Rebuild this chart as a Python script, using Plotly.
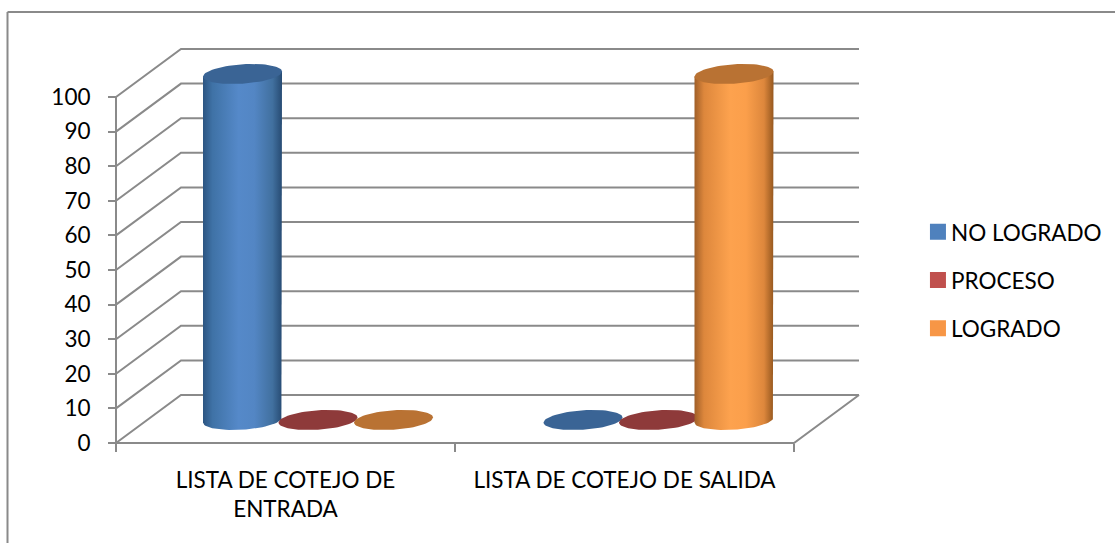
import plotly.graph_objects as go
import numpy as np

categories = ["LISTA DE COTEJO DE<br>ENTRADA", "LISTA DE COTEJO DE SALIDA"]
series_names = ["NO LOGRADO", "PROCESO", "LOGRADO"]
no_logrado = [100, 0]
proceso = [0, 0]
logrado = [0, 100]
y_ticks = list(range(0, 101, 10))

W, H = 1115, 543
X0, CAT = 116, 339          # px of first boundary, px per category
Y0, UNIT = 443, 3.46        # px of value 0, px per value unit
DX, DY = 65 / CAT, 48 / UNIT  # depth of the 3D box in data units
GRID = "#8a8a8a"
FONT = "Lato"
SIZE = 22.5

x_range = [-0.5 - X0 / CAT, -0.5 + (W - X0) / CAT]
y_range = [-(H - Y0) / UNIT, Y0 / UNIT]

styles = [
    dict(top="#3a6495", legend="#4f81bd",
         grad=[[0, "#2c5582"], [0.12, "#3f72a6"], [0.45, "#5589c9"], [0.65, "#5386c4"], [0.88, "#41709f"], [1, "#274b73"]]),
    dict(top="#8e3a3a", legend="#c0504d",
         grad=[[0, "#7a2f2d"], [0.5, "#c0504d"], [1, "#7a2f2d"]]),
    dict(top="#b97233", legend="#f79646",
         grad=[[0, "#a05f28"], [0.12, "#dd873c"], [0.45, "#fda24e"], [0.65, "#fb9f4b"], [0.88, "#dd873c"], [1, "#96581f"]]),
]
values = [no_logrado, proceso, logrado]

fig = go.Figure()

# Walls and floor of the 3D box
for v in y_ticks:
    fig.add_trace(go.Scatter(x=[-0.5, -0.5 + DX, 1.5 + DX], y=[v, v + DY, v + DY], mode="lines",
                             line=dict(color=GRID, width=2), showlegend=False, hoverinfo="skip"))
fig.add_trace(go.Scatter(x=[-0.5, -0.5], y=[0, 100], mode="lines",
                         line=dict(color=GRID, width=2), showlegend=False, hoverinfo="skip"))
fig.add_trace(go.Scatter(x=[-0.5, 1.5, 1.5 + DX], y=[0, 0, DY], mode="lines",
                         line=dict(color=GRID, width=2), showlegend=False, hoverinfo="skip"))

# Cylinders
A = 39.5 / CAT     # half width
B = 9.7 / UNIT     # ellipse half height
K = 2.5 / UNIT     # ellipse tilt
STEP = 75.5 / CAT  # distance between series
PITCH = 340.5 / CAT  # distance between category groups
MID_X, MID_Y = DX / 2, 6.65
t = np.linspace(0, 2 * np.pi, 73)

for s, (vals, st) in enumerate(zip(values, styles)):
    for c, v in enumerate(vals):
        cx = c * PITCH + MID_X + (s - 1) * STEP
        base, topv = MID_Y, v + MID_Y
        ex = cx + A * np.cos(t)
        tilt = K * np.cos(t)
        if v > 0:
            arc = np.linspace(0, np.pi, 37)
            bx = cx + A * np.cos(arc)
            by = base + K * np.cos(arc) - B * np.sin(arc)
            xs = [cx + A] + list(bx) + [cx - A]
            ys = [topv + K] + list(by) + [topv - K]
            fig.add_trace(go.Scatter(
                x=xs, y=ys, mode="lines", line=dict(width=0), fill="toself",
                fillgradient=dict(type="horizontal", colorscale=st["grad"], start=cx - A, stop=cx + A),
                showlegend=False, hoverinfo="skip"))
        fig.add_trace(go.Scatter(
            x=ex, y=topv + tilt + B * np.sin(t), mode="lines", line=dict(width=0),
            fill="toself", fillcolor=st["top"], showlegend=False, hoverinfo="skip"))

# Legend entries
for name, st in zip(series_names, styles):
    fig.add_trace(go.Scatter(x=[None], y=[None], mode="markers", name=name, legendgroup=name,
                             marker=dict(symbol="square", size=16, color=st["legend"])))

fig.update_layout(
    width=W, height=H, autosize=False, margin=dict(l=0, r=0, t=0, b=0),
    paper_bgcolor="white", plot_bgcolor="white", font=dict(family=FONT, size=SIZE, color="#000000"),
    xaxis=dict(range=x_range, tickvals=[0, 1], ticktext=categories, showgrid=False, zeroline=False,
               showline=False, ticks="", anchor="free", position=(H - Y0) / H, side="bottom",
               ticklabelstandoff=21,
               minor=dict(tickvals=[-0.5, 0.5, 1.5], ticks="outside", ticklen=8, tickwidth=2, tickcolor=GRID, showgrid=False),
               tickfont=dict(size=SIZE)),
    yaxis=dict(range=y_range, tickvals=y_ticks, showgrid=False, zeroline=False, showline=False,
               ticks="outside", ticklen=8, tickwidth=2, tickcolor=GRID, anchor="free",
               position=X0 / W, side="left", ticklabelstandoff=13, tickfont=dict(size=SIZE)),
    legend=dict(x=0.817, y=0.612, xanchor="left", yanchor="top", tracegroupgap=16,
                font=dict(size=SIZE), bgcolor="rgba(0,0,0,0)", itemwidth=30),
    shapes=[
        dict(type="line", xref="paper", yref="paper", x0=7.5 / W, x1=1, y0=1 - 12 / H, y1=1 - 12 / H, line=dict(color=GRID, width=2)),
        dict(type="line", xref="paper", yref="paper", x0=7.5 / W, x1=7.5 / W, y0=0, y1=1 - 12 / H, line=dict(color=GRID, width=2)),
    ],
)

fig.write_html("out.html", config=dict(displayModeBar=False),
               post_script="document.body.style.margin='0';document.body.style.overflow='hidden';"
                           "document.querySelectorAll('.legendsymbols').forEach(function(e){e.setAttribute('transform','translate(7,0)');});")
